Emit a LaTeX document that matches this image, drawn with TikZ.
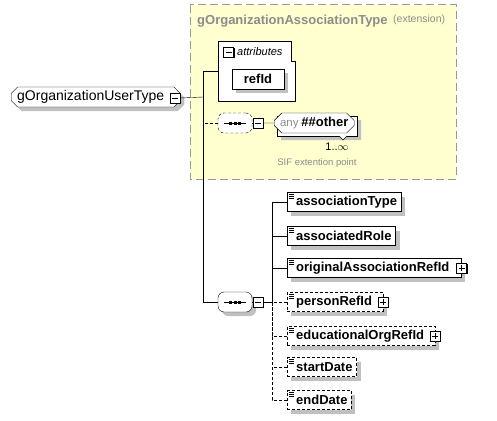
\documentclass[tikz,border=0pt]{standalone}
\usepackage{fontspec}
\setmainfont{Liberation Sans}
\usetikzlibrary{shapes.misc,shadows,positioning}
\definecolor{extfill}{HTML}{FFFFD0}
\definecolor{extline}{HTML}{999999}
\definecolor{extgray}{HTML}{8C8C8C}
\definecolor{shd}{HTML}{C0C0C0}
\tikzset{
  shd/.style={drop shadow={shadow xshift=4pt,shadow yshift=-4pt,fill=shd,opacity=1}},
  elem/.style={draw, fill=white, shd, anchor=west, inner xsep=4pt, inner ysep=0pt,
    minimum height=19, font=\fontsize{13}{15}\selectfont\bfseries},
  optelem/.style={elem, dash pattern=on 3pt off 2pt},
  simple/.style={execute at begin node={\hspace*{5pt}}, path picture={
    \draw[solid,line width=0.5pt]
      ([shift={(2pt,-2pt)}]path picture bounding box.north west) -- ++(5pt,0)
      ([shift={(2pt,-4pt)}]path picture bounding box.north west) -- ++(5pt,0)
      ([shift={(2pt,-6pt)}]path picture bounding box.north west) -- ++(5pt,0);}},
  tog/.style={draw, solid, fill=white, inner sep=0pt, minimum size=10,
    drop shadow={shadow xshift=1pt,shadow yshift=-1pt,fill=black,opacity=1}},
  minus/.style={tog, path picture={\draw ([xshift=2pt]path picture bounding box.west) -- ([xshift=-2pt]path picture bounding box.east);}},
  plus/.style={tog, path picture={\draw ([xshift=2pt]path picture bounding box.west) -- ([xshift=-2pt]path picture bounding box.east)
      ([yshift=-2pt]path picture bounding box.north) -- ([yshift=2pt]path picture bounding box.south);}},
  seqbox/.style={rectangle, rounded corners=6pt, draw, fill=white,
    minimum width=34, minimum height=20, inner sep=0pt,
    path picture={
      \draw[solid, sharp corners] ([xshift=6pt]path picture bounding box.west) -- ([xshift=-6pt]path picture bounding box.east);
      \foreach \d in {-4.5,0,4.5}
        \fill[black, sharp corners] ([xshift=\d pt]path picture bounding box.center) +(-1.5pt,-1.5pt) rectangle +(1.5pt,1.5pt);}},
  anybox/.style={chamfered rectangle, chamfered rectangle xsep=4pt, draw, fill=white,
    minimum width=80, minimum height=20, inner sep=0pt},
  dsh/.style={dash pattern=on 3pt off 2pt}
}
\begin{document}
\begin{tikzpicture}[x=1pt,y=-1pt]
\useasboundingbox (0,0) rectangle (497,420);
% extension area
\draw[extline, fill=extfill, line width=1pt, dash pattern=on 8pt off 4pt] (190,5) rectangle (456,179);
\node[anchor=west, inner sep=0pt, text=extgray, font=\fontsize{13}{15}\selectfont\bfseries] (exttitle) at (197,21) {gOrganizationAssociationType};
\node[anchor=west, inner sep=0pt, text=extgray, font=\fontsize{10.5}{12}\selectfont] (extkind) at (393,20) {(extension)};

% root
\node[chamfered rectangle, chamfered rectangle xsep=3pt, draw, fill=white, shd, anchor=west,
  minimum height=20, inner xsep=3pt, inner ysep=0pt, font=\fontsize{14}{16}\selectfont] (root) at (11,97)
  {gOrganizationUserType\hspace*{10pt}};
\node[minus] (rootm) at (175,98) {};
\coordinate (trunk) at (203,97);

% attributes
\node[minimum width=77, minimum height=60, inner sep=0pt, anchor=north west] (attr) at (218,41) {};
\draw[fill=white] (attr.north west) -- ++(73,0) -- ++(0,20) -| (attr.south east) -- (attr.south west) -- cycle;
\node[minus] (attrm) at (228.5,52) {};
\node[anchor=west, inner sep=0pt, font=\fontsize{11}{13}\selectfont\itshape] (attrlbl) at (237,52) {attributes};
\node[elem, anchor=center, minimum width=52, minimum height=20] (refid) at (258,79) {refId};

% any ##other
\node[seqbox, dsh] (anyseq) at (235,123) {};
\node[minus] (anyseqm) at (258,123) {};
\node[anybox, shd] (anyback) at (317,126) {};
\draw[fill=white] (339,136) -- (343,140) -- (347,136);
\node[anybox, anchor=west] (any) at (274,123)
  {\textcolor{extgray}{\fontsize{11.5}{13}\selectfont any} \fontsize{13}{15}\selectfont\bfseries \#\#other};
\node[font=\fontsize{11}{13}\selectfont, inner sep=0pt] (occ) at (337,147) {1..$\infty$};
\node[text=extgray, font=\fontsize{9.5}{11}\selectfont, inner sep=0pt] (sif) at (317,163) {SIF extention point};

% sequence
\node[seqbox, shd] (seq) at (235,302) {};
\node[minus] (seqm) at (258,302) {};
\coordinate (branch) at (272,302);

\node[elem, simple] (atype) at (287,202) {associationType};
\node[elem, simple] (arole) at (287,236) {associatedRole};
\node[elem, simple] (orig) at (287,268) {originalAssociationRefId\hspace*{8pt}};
\node[plus] at (orig.east) {};
\node[optelem, simple] (person) at (287,302) {personRefId\hspace*{7pt}};
\node[plus] at (person.east) {};
\node[optelem, simple] (eduorg) at (287,336) {educationalOrgRefId\hspace*{7pt}};
\node[plus] at (eduorg.east) {};
\node[optelem, simple] (start) at (287,367) {startDate};
\node[optelem, simple] (end) at (287,400) {endDate};

% connectors
\draw (rootm.east) -- (trunk);
\draw (attr.west) -- (attr.west -| trunk) |- (seq.west);
\draw[dsh] (anyseq.west) -- (anyseq.west -| trunk);
\draw (anyseq) -- (anyseqm);
\draw (anyseqm) -- (any);
\draw (seq) -- (seqm);
\draw (seqm) -- (branch);
\draw (atype.west) -| (branch);
\draw (arole.west) -- (arole.west -| branch);
\draw (orig.west) -- (orig.west -| branch);
\draw[dsh] (person.west) -- (branch);
\draw[dsh] (eduorg.west) -| (branch);
\draw[dsh] (start.west) -- (start.west -| branch);
\draw[dsh] (end.west) -| (branch);
\end{tikzpicture}
\end{document}
